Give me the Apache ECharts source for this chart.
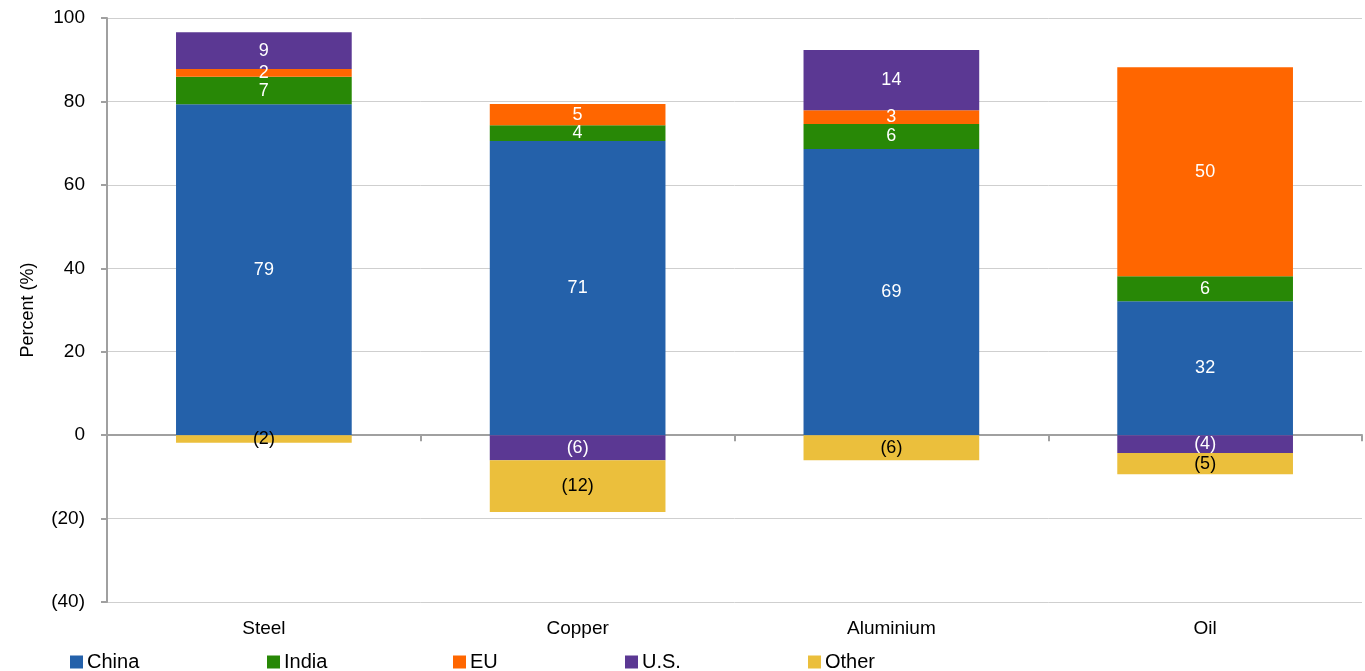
<!DOCTYPE html>
<html>
<head>
<meta charset="utf-8">
<script src="https://cdn.jsdelivr.net/npm/echarts@6/dist/echarts.min.js"></script>
<style>
html,body{margin:0;padding:0;background:#fff;}
#chart{width:1365px;height:671px;}
</style>
</head>
<body>
<div id="chart"></div>
<script>
const categories = ['Steel', 'Copper', 'Aluminium', 'Oil'];
const seriesNames = ['China', 'India', 'EU', 'U.S.', 'Other'];
const china = [79.3, 70.5, 68.6, 32.1];
const india = [6.6, 3.8, 6.0, 6.0];
const eu = [1.9, 5.1, 3.3, 50.1];
const us = [8.8, -6.0, 14.4, -4.3];
const other = [-1.8, -12.4, -6.0, -5.1];
const yTicks = { min: -40, max: 100, interval: 20 };

const colors = ['#2461AA', '#288806', '#FF6600', '#5B3893', '#EBBF3C'];
const labelColors = ['#fff', '#fff', '#fff', '#fff', '#000'];
const values = [china, india, eu, us, other];
const FONT = '"Liberation Sans", Arial, sans-serif';

function fmt(v) {
  const r = Math.round(Math.abs(v));
  return v < 0 ? '(' + r + ')' : String(r);
}

const series = seriesNames.map((name, i) => ({
  name: name,
  type: 'bar',
  stack: 'total',
  xAxisIndex: 0,
  barCategoryGap: '44%',
  itemStyle: { color: colors[i] },
  label: {
    show: true,
    position: 'inside',
    color: labelColors[i],
    fontFamily: FONT,
    fontSize: 18,
    formatter: p => fmt(p.value)
  },
  emphasis: { disabled: true },
  data: values[i]
}));

const legendLefts = [70, 267, 453, 625, 808];
const legends = seriesNames.map((name, i) => ({
  data: [name],
  left: legendLefts[i],
  top: 652,
  itemWidth: 13,
  itemHeight: 13,
  itemGap: 4,
  padding: 0,
  icon: 'rect',
  textStyle: { fontFamily: FONT, fontSize: 20, color: '#000', padding: [0, 0, 0, -1] }
}));

const chart = echarts.init(document.getElementById('chart'), null, { renderer: 'canvas' });
chart.setOption({
  animation: false,
  backgroundColor: '#fff',
  grid: { left: 107, right: 3, top: 18, bottom: 69, containLabel: false },
  legend: legends,
  xAxis: [
    {
      type: 'category',
      data: categories,
      position: 'bottom',
      axisLine: { show: false, onZero: false },
      axisTick: { show: false },
      axisLabel: { fontFamily: FONT, fontSize: 19, color: '#000', margin: 17 },
      splitLine: { show: false }
    },
    {
      type: 'category',
      data: categories,
      position: 'bottom',
      axisLine: { show: true, onZero: true, lineStyle: { color: '#a0a0a0', width: 2 } },
      axisTick: { show: true, length: 6, inside: false, lineStyle: { color: '#a0a0a0', width: 2 } },
      axisLabel: { show: false },
      splitLine: { show: false }
    }
  ],
  yAxis: {
    type: 'value',
    min: yTicks.min,
    max: yTicks.max,
    interval: yTicks.interval,
    name: 'Percent (%)',
    nameLocation: 'middle',
    nameRotate: 90,
    nameGap: 70,
    nameTextStyle: { fontFamily: FONT, fontSize: 18, color: '#000' },
    axisLine: { show: true, lineStyle: { color: '#a0a0a0', width: 2 } },
    axisTick: { show: true, length: 6, lineStyle: { color: '#a0a0a0', width: 2 } },
    axisLabel: { fontFamily: FONT, fontSize: 19, color: '#000', margin: 22, formatter: v => fmt(v) },
    splitLine: { show: true, lineStyle: { color: '#cfcfcf', width: 1 } }
  },
  series: series
});
</script>
</body>
</html>
